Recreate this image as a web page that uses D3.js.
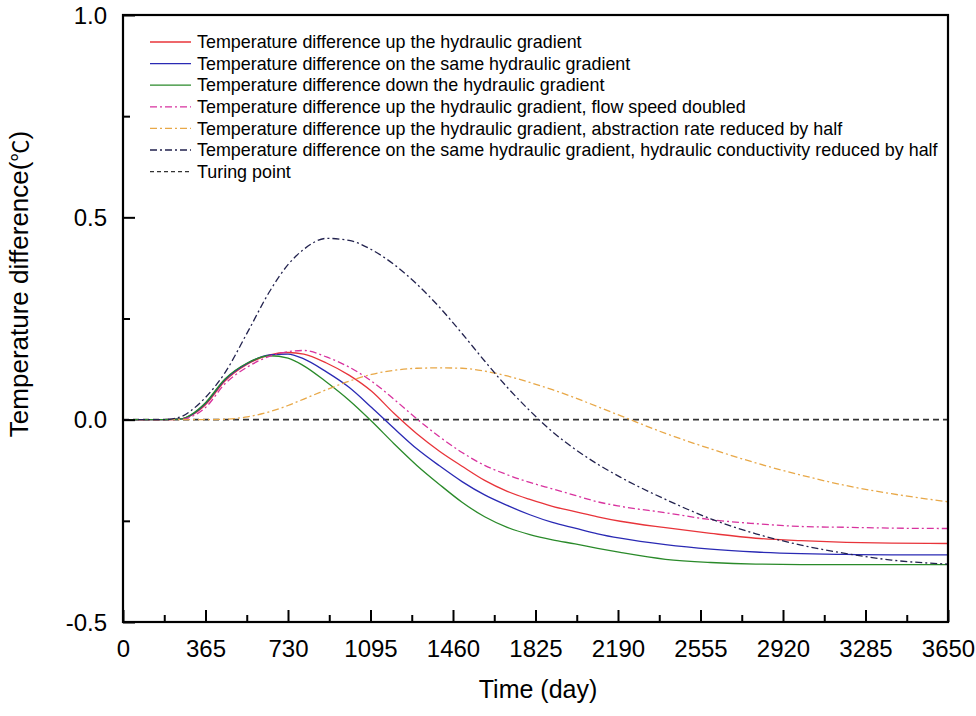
<!DOCTYPE html>
<html><head><meta charset="utf-8">
<script src="https://cdn.jsdelivr.net/npm/d3@7"></script>
<style>body{margin:0;background:#fff}svg{display:block}text{font-family:Arial,"Liberation Sans",sans-serif}</style>
</head><body><svg id="c" width="976" height="716"></svg>
<script>
const days = [0,180,260,300,365,450,550,650,730,800,900,1000,1100,1200,1300,1400,1500,1600,1700,1800,1900,2000,2100,2200,2400,2600,2800,3000,3200,3400,3650];
const upGradient   = [0,0,0.002,0.010,0.037,0.095,0.137,0.160,0.166,0.162,0.140,0.110,0.070,0.015,-0.035,-0.078,-0.115,-0.150,-0.177,-0.197,-0.214,-0.227,-0.240,-0.251,-0.267,-0.281,-0.293,-0.299,-0.303,-0.305,-0.306];
const sameGradient = [0,0,0.002,0.011,0.040,0.098,0.139,0.160,0.162,0.150,0.118,0.080,0.030,-0.022,-0.072,-0.114,-0.153,-0.186,-0.212,-0.235,-0.254,-0.268,-0.282,-0.293,-0.309,-0.320,-0.327,-0.331,-0.333,-0.334,-0.334];
const downGradient = [0,0,0.002,0.012,0.042,0.100,0.140,0.158,0.152,0.133,0.093,0.048,-0.004,-0.060,-0.113,-0.160,-0.204,-0.240,-0.266,-0.284,-0.297,-0.307,-0.318,-0.328,-0.345,-0.353,-0.357,-0.358,-0.358,-0.358,-0.358];
const flowDoubled  = [0,0,0.001,0.007,0.030,0.088,0.130,0.157,0.168,0.171,0.155,0.130,0.095,0.050,0.002,-0.042,-0.081,-0.113,-0.136,-0.155,-0.171,-0.187,-0.203,-0.214,-0.230,-0.247,-0.257,-0.264,-0.266,-0.268,-0.269];
const abstractionHalf = [0,0,0,0,0,0.001,0.007,0.020,0.035,0.051,0.074,0.095,0.112,0.122,0.127,0.128,0.127,0.120,0.108,0.092,0.074,0.054,0.032,0.010,-0.034,-0.072,-0.107,-0.137,-0.163,-0.183,-0.203];
const conductivityHalf = [0,0,0.008,0.022,0.055,0.115,0.215,0.318,0.383,0.421,0.448,0.443,0.420,0.383,0.335,0.278,0.213,0.145,0.080,0.022,-0.030,-0.073,-0.110,-0.142,-0.197,-0.245,-0.282,-0.310,-0.331,-0.347,-0.357];
const seriesNames = [
 "Temperature difference up the hydraulic gradient",
 "Temperature difference on the same hydraulic gradient",
 "Temperature difference down the hydraulic gradient",
 "Temperature difference up the hydraulic gradient, flow speed doubled",
 "Temperature difference up the hydraulic gradient, abstraction rate reduced by half",
 "Temperature difference on the same hydraulic gradient, hydraulic conductivity reduced by half"
];
const turningLabel = "Turing point";
const xTicks = [0,365,730,1095,1460,1825,2190,2555,2920,3285,3650];
const yTicks = [-0.5,0,0.5,1.0];
const yTickLabels = ["-0.5","0.0","0.5","1.0"];
const xLabel = "Time (day)";
const yLabelMain = "Temperature difference(";
const yLabelUnit = "℃";
const yLabelEnd = ")";

const colors = ["#e8343a","#2a2ab4","#2a8a2a","#d8329e","#e8a848","#22224e"];
const dashes = [null,null,null,"7,3,2,3","7,3,2,3","7,3,2,3"];
const allValues = [upGradient,sameGradient,downGradient,flowDoubled,abstractionHalf,conductivityHalf];

const svg = d3.select("#c");
const L=123,R=948,T=15,B=622;
const x = d3.scaleLinear().domain([0,3650]).range([L,R]);
const y = d3.scaleLinear().domain([-0.5,1.0]).range([B,T]);

// zero dashed line
svg.append("line").attr("x1",L).attr("x2",R).attr("y1",y(0)).attr("y2",y(0))
  .attr("stroke","#333").attr("stroke-width",1.6).attr("stroke-dasharray","6,4");

const line = d3.line().x(d=>x(d[0])).y(d=>y(d[1])).curve(d3.curveMonotoneX);
allValues.forEach((vals,i)=>{
  svg.append("path").datum(days.map((d,j)=>[d,vals[j]]))
    .attr("d",line).attr("fill","none").attr("stroke",colors[i])
    .attr("stroke-width",1.3).attr("stroke-dasharray",dashes[i]);
});

// axes
const xMinor = d3.range(182.5,3650,365);
const gx = svg.append("g").attr("transform",`translate(0,${B})`);
gx.call(d3.axisBottom(x).tickValues(xTicks).tickSize(-12).tickFormat(d3.format("d")).tickPadding(18));
gx.append("g").call(d3.axisBottom(x).tickValues(xMinor).tickSize(-7).tickFormat(""));
const gy = svg.append("g").attr("transform",`translate(${L},0)`);
gy.call(d3.axisLeft(y).tickValues(yTicks).tickSize(-12).tickFormat((d,i)=>yTickLabels[i]).tickPadding(16));
gy.append("g").call(d3.axisLeft(y).tickValues([-0.25,0.25,0.75]).tickSize(-7).tickFormat(""));
svg.selectAll(".domain").remove();
svg.selectAll(".tick line").attr("stroke","#000").attr("stroke-width",2);
svg.selectAll(".tick text").attr("font-size",24).attr("fill","#000").attr("font-family","Arial, 'Liberation Sans', sans-serif");
gy.selectAll(".tick text").attr("dy","0.34em");
// frame
svg.append("rect").attr("x",L).attr("y",T).attr("width",R-L).attr("height",B-T)
  .attr("fill","none").attr("stroke","#000").attr("stroke-width",2.2);

// axis titles
svg.append("text").attr("x",538).attr("y",698).attr("text-anchor","middle")
  .attr("font-size",25).text(xLabel);
const yt = svg.append("text").attr("transform",`translate(28,284) rotate(-90)`)
  .attr("text-anchor","middle").attr("font-size",26);
yt.append("tspan").text(yLabelMain);
yt.append("tspan").attr("font-family","'Noto Sans CJK SC', sans-serif").attr("font-size",22).text(yLabelUnit);
yt.append("tspan").text(yLabelEnd);

// legend
const legY0 = 42, legDy = 21.6;
const legItems = seriesNames.map((n,i)=>({n,c:colors[i],d:dashes[i]}));
legItems.push({n:turningLabel,c:"#333",d:"4,3"});
legItems.forEach((it,i)=>{
  const yy = legY0 + i*legDy;
  svg.append("line").attr("x1",150).attr("x2",191).attr("y1",yy).attr("y2",yy)
    .attr("stroke",it.c).attr("stroke-width",1.3).attr("stroke-dasharray",it.d);
  svg.append("text").attr("x",197).attr("y",yy).attr("dy","0.35em")
    .attr("font-size",17.9).attr("fill","#000").text(it.n);
});
</script></body></html>
